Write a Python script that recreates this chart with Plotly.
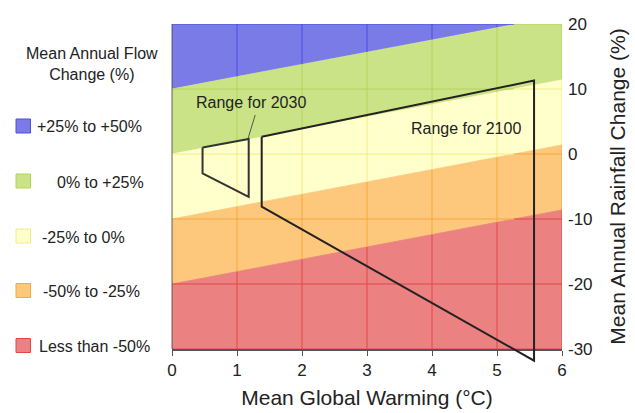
import numpy as np
import plotly.graph_objects as go

# ---------------- data ----------------
band_names = ["+25% to +50%", "0% to +25%", "-25% to 0%", "-50% to -25%", "Less than -50%"]
band_fill = ["#7b7be8", "#cbe387", "#ffffcc", "#fdc87c", "#eb8181"]
band_grid = ["#4d4de2", "#b3d35a", "#f3ec84", "#f7a63a", "#e54646"]
# flow-change band boundaries: rainfall change (%) at 0 °C, top to bottom
boundary_intercepts = [10, 0, -10, -20]
boundary_slope = 1.9  # % rainfall per °C
x_ticks = [0, 1, 2, 3, 4, 5, 6]
y_ticks = [20, 10, 0, -10, -20, -30]
y_tick_labels = ["20", "10", "0", "-10", "-20", "-30"]
x_range = [0, 6]
y_range = [-30, 20]

range2030_x = [0.47, 0.47, 1.18, 1.18, 0.47]
range2030_y = [1.0, -3.0, -6.6, 2.3, 1.0]
range2100_x = [1.38, 1.38, 5.57, 5.57, 1.38]
range2100_y = [2.66, -8.1, -31.8, 11.3, 2.66]
leader2030_x = [1.17, 1.28]
leader2030_y = [2.4, 6.0]
label2030 = ("Range for 2030", 1.22, 7.85)
label2100 = ("Range for 2100", 4.52, 4.0)

FONT = "Liberation Sans, Arial, sans-serif"
W, H = 635, 413
ML, MR, MT, MB = 172, 73, 24, 48
PLOT_W = W - ML - MR
PLOT_H = H - MT - MB
AXIS_BOTTOM_PX = 349
d = (H - MB - AXIS_BOTTOM_PX) / PLOT_H  # domain bottom of main y axis

fig = go.Figure()

xs = np.linspace(x_range[0], x_range[1], 1201)


def bound_funcs(i):
    if i == 0:
        upper = lambda x: np.full_like(np.asarray(x, float), y_range[1])
    else:
        b = boundary_intercepts[i - 1]
        upper = lambda x, b=b: b + boundary_slope * np.asarray(x, float)
    if i == len(band_names) - 1:
        lower = lambda x: np.full_like(np.asarray(x, float), y_range[0])
    else:
        b = boundary_intercepts[i]
        lower = lambda x, b=b: b + boundary_slope * np.asarray(x, float)
    return lower, upper


for i, name in enumerate(band_names):
    lower, upper = bound_funcs(i)
    hi = np.clip(upper(xs), *y_range)
    lo = np.clip(lower(xs), *y_range)
    fig.add_trace(go.Scatter(
        x=np.concatenate([xs, xs[::-1]]), y=np.concatenate([hi, lo[::-1]]),
        fill="toself", fillcolor=band_fill[i], mode="lines",
        line=dict(color=band_fill[i], width=0.8), hoverinfo="skip",
        showlegend=False, xaxis="x", yaxis="y"))

# grid lines tinted per band
for i, name in enumerate(band_names):
    lower, upper = bound_funcs(i)
    gx, gy = [], []
    for xv in x_ticks:
        lo_v = float(np.clip(lower(xv), *y_range))
        hi_v = float(np.clip(upper(xv), *y_range))
        if hi_v > lo_v:
            gx += [xv, xv, None]
            gy += [lo_v, hi_v, None]
    lo_all = lower(xs)
    hi_all = upper(xs)
    for yv in y_ticks:
        mask = (lo_all <= yv) & (hi_all >= yv)
        if mask.any():
            gx += [xs[mask].min(), xs[mask].max(), None]
            gy += [yv, yv, None]
    fig.add_trace(go.Scatter(x=gx, y=gy, mode="lines",
                             line=dict(color=band_grid[i], width=1),
                             hoverinfo="skip", showlegend=False,
                             xaxis="x", yaxis="y"))

# leader line
fig.add_trace(go.Scatter(x=leader2030_x, y=leader2030_y, mode="lines",
                         line=dict(color="#555555", width=1),
                         hoverinfo="skip", showlegend=False, xaxis="x", yaxis="y"))

# range polygons (on an overlay subplot with same scale but taller area, so they can pass the axis)
fig.add_trace(go.Scatter(x=range2030_x, y=range2030_y, mode="lines",
                         line=dict(color="#333333", width=2),
                         hoverinfo="skip", showlegend=False, xaxis="x2", yaxis="y2"))
fig.add_trace(go.Scatter(x=range2100_x, y=range2100_y, mode="lines",
                         line=dict(color="#222222", width=2),
                         hoverinfo="skip", showlegend=False, xaxis="x2", yaxis="y2"))

y2min = y_range[0] - (y_range[1] - y_range[0]) * d / (1 - d)

annotations = []
for txt, ax_, ay_ in (label2030, label2100):
    annotations.append(dict(text=txt, x=ax_, y=ay_, xref="x", yref="y", showarrow=False,
                            xanchor="center", yanchor="middle",
                            font=dict(family=FONT, size=16, color="#222222")))


def px2x(p):
    return (p - ML) / PLOT_W


def py2y(p):
    return (H - MB - p) / PLOT_H


annotations.append(dict(text="Mean Annual Flow<br>Change (%)", x=px2x(92), y=py2y(64),
                        xref="paper", yref="paper", showarrow=False, align="center",
                        xanchor="center", yanchor="middle",
                        font=dict(family=FONT, size=16, color="#222222")))

swatch_y = [126, 181, 236, 290.5, 345.5]
label_x = [35, 55, 40, 41, 37]
shapes = []
for i, name in enumerate(band_names):
    shapes.append(dict(type="rect", xref="paper", yref="paper",
                       x0=px2x(16), x1=px2x(30.5), y0=py2y(swatch_y[i] + 7), y1=py2y(swatch_y[i] - 7),
                       fillcolor=band_fill[i], line=dict(color=band_grid[i], width=1)))
    annotations.append(dict(text=name, x=px2x(label_x[i]), y=py2y(swatch_y[i] + 1),
                            xref="paper", yref="paper", showarrow=False,
                            xanchor="left", yanchor="middle",
                            font=dict(family=FONT, size=16, color="#222222")))

# left plot edge line
shapes.append(dict(type="line", xref="x domain", yref="y domain", x0=0, x1=0, y0=0, y1=1,
                   line=dict(color="#666666", width=1)))

fig.update_layout(
    width=W, height=H,
    margin=dict(l=ML, r=MR, t=MT, b=MB, autoexpand=False),
    paper_bgcolor="white", plot_bgcolor="rgba(0,0,0,0)",
    font=dict(family=FONT, color="#222222"),
    showlegend=False,
    xaxis=dict(domain=[0, 1], range=x_range, anchor="y", tickvals=x_ticks,
               ticks="outside", ticklen=5, tickcolor="#555555",
               showline=True, linecolor="#555555", linewidth=1.5,
               showgrid=False, zeroline=False, automargin=False,
               tickfont=dict(size=17, color="#222222"),
               title=dict(text="Mean Global Warming (°C)", font=dict(size=21, color="#222222"), standoff=11)),
    yaxis=dict(domain=[d, 1], range=y_range, anchor="x", side="right",
               tickvals=y_ticks, ticktext=y_tick_labels,
               showgrid=False, zeroline=False, showline=False, ticks="",
               ticklabelstandoff=5, automargin=False,
               tickfont=dict(size=17, color="#222222"),
               title=dict(text="Mean Annual Rainfall Change (%)", font=dict(size=21, color="#222222"), standoff=18)),
    xaxis2=dict(domain=[0, 1], range=x_range, anchor="y2", visible=False),
    yaxis2=dict(domain=[0, 1], range=[y2min, y_range[1]], anchor="x2", visible=False),
    annotations=annotations,
    shapes=shapes,
)

fig.write_html("out.html", config={"displayModeBar": False},
               post_script="document.body.style.margin='0';document.body.style.padding='0';")
